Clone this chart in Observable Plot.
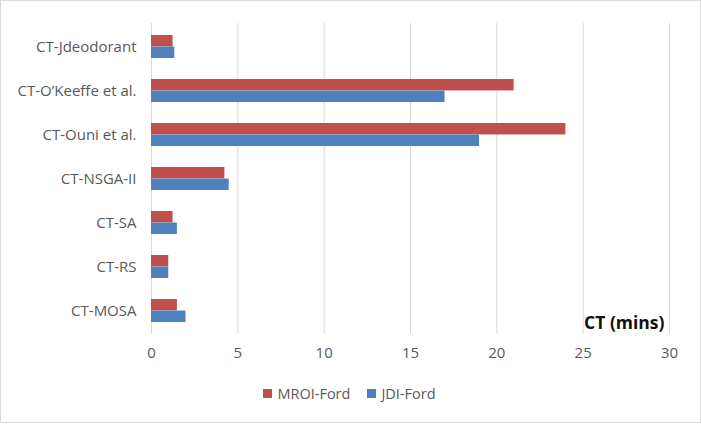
<!DOCTYPE html>
<html>
<head>
<meta charset="utf-8">
<script src="https://cdn.jsdelivr.net/npm/d3@7"></script>
<script src="https://cdn.jsdelivr.net/npm/@observablehq/plot@0.6"></script>
<style>
  html, body { margin: 0; padding: 0; background: #fff; }
  #wrap { position: relative; width: 701px; height: 425px; font-family: "Open Sans", Lato, sans-serif; }
  #border { position: absolute; left: 0; top: 0; width: 699px; height: 421px; border: 1px solid #d9d9d9; pointer-events: none; }
  #legend { display: flex; justify-content: center; align-items: center; gap: 17px; font-size: 14.5px; color: #595959; margin-top: 9px; padding-right: 2px; }
  #legend .item { display: flex; align-items: center; gap: 5px; }
  #legend .sw { width: 9px; height: 9px; display: inline-block; }
</style>
</head>
<body>
<div id="wrap"><div id="chart"></div><div id="legend"></div><div id="border"></div></div>
<script>
const categories = ["CT-Jdeodorant", "CT-O’Keeffe et al.", "CT-Ouni et al.", "CT-NSGA-II", "CT-SA", "CT-RS", "CT-MOSA"];
const seriesNames = ["MROI-Ford", "JDI-Ford"];
const seriesColors = ["#C0504D", "#4F81BD"];
const mroiFord = [1.25, 21, 24, 4.25, 1.25, 1, 1.5];
const jdiFord = [1.35, 17, 19, 4.5, 1.5, 1, 2];
const xTicks = [0, 5, 10, 15, 20, 25, 30];
const axisTitle = "CT (mins)";

const W = 701, H = 375, mTop = 23, mBottom = 41, mLeft = 151, mRight = 32;
const padIn = 0.48, padOut = 0.24;
const step = (H - mTop - mBottom) / (categories.length - padIn + 2 * padOut);
const bw = step * (1 - padIn);

const mroiData = categories.map((c, i) => ({category: c, value: mroiFord[i]}));
const jdiData = categories.map((c, i) => ({category: c, value: jdiFord[i]}));

const chart = Plot.plot({
  width: W, height: H,
  marginTop: mTop, marginBottom: mBottom, marginLeft: mLeft, marginRight: mRight,
  style: {fontFamily: "'Open Sans', Lato, sans-serif", fontSize: "15px", color: "#595959", background: "transparent"},
  x: {domain: [0, 30], ticks: xTicks, label: null, tickSize: 0, tickPadding: 13},
  y: {domain: categories, paddingInner: padIn, paddingOuter: padOut, label: null, tickSize: 0, tickPadding: 15},
  marks: [
    Plot.gridX(xTicks, {stroke: "#d9d9d9", strokeOpacity: 1}),
    Plot.barX(mroiData, {y: "category", x: "value", fill: seriesColors[0], insetBottom: bw / 2}),
    Plot.barX(jdiData, {y: "category", x: "value", fill: seriesColors[1], insetTop: bw / 2}),
    Plot.text([axisTitle], {frameAnchor: "bottom-right", dx: -5, dy: -6, fontWeight: "bold", fontSize: 17.5, fill: "#111", fontFamily: "'Open Sans', sans-serif"})
  ]
});
document.getElementById("chart").appendChild(chart);

const legend = document.getElementById("legend");
seriesNames.forEach((n, i) => {
  const it = document.createElement("div");
  it.className = "item";
  const sw = document.createElement("span");
  sw.className = "sw";
  sw.style.background = seriesColors[i];
  const t = document.createElement("span");
  t.textContent = n;
  it.appendChild(sw); it.appendChild(t);
  legend.appendChild(it);
});
</script>
</body>
</html>
